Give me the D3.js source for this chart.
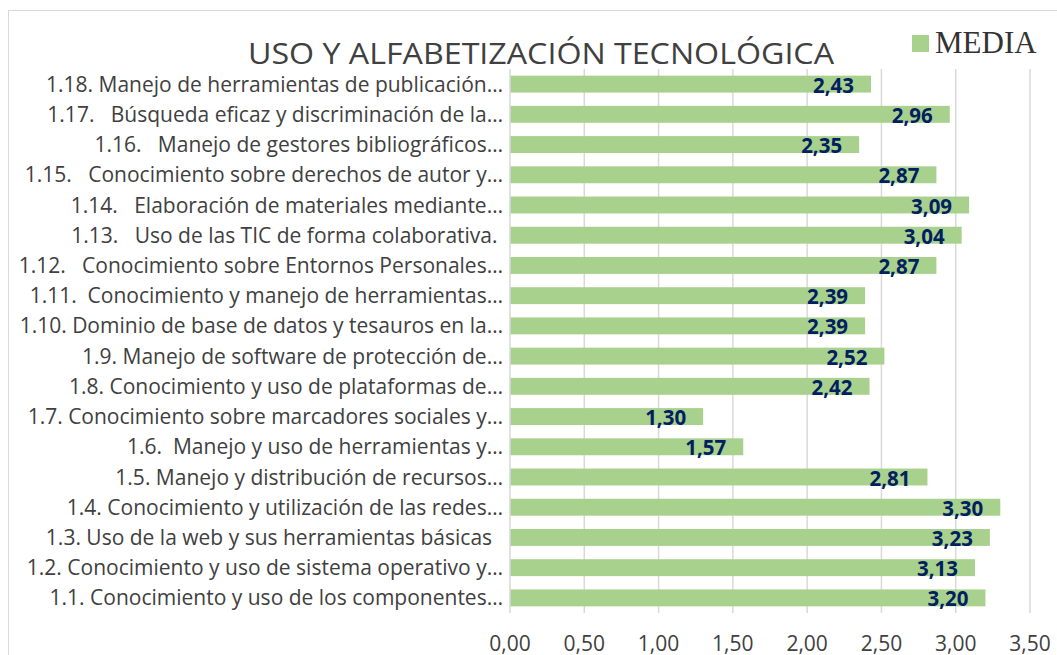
<!DOCTYPE html>
<html>
<head>
<meta charset="utf-8">
<script src="https://cdn.jsdelivr.net/npm/d3@7"></script>
<style>
  body { margin: 0; background: #fff; }
</style>
</head>
<body>
<div id="wrapper"></div>
<script>
// data, top bar first
const categories = [
  "1.18. Manejo de herramientas de publicación…",
  "1.17.   Búsqueda eficaz y discriminación de la…",
  "1.16.   Manejo de gestores bibliográficos…",
  "1.15.   Conocimiento sobre derechos de autor y…",
  "1.14.   Elaboración de materiales mediante…",
  "1.13.   Uso de las TIC de forma colaborativa. ",
  "1.12.   Conocimiento sobre Entornos Personales…",
  "1.11.  Conocimiento y manejo de herramientas…",
  "1.10. Dominio de base de datos y tesauros en la…",
  "1.9. Manejo de software de protección de…",
  "1.8. Conocimiento y uso de plataformas de…",
  "1.7. Conocimiento sobre marcadores sociales y…",
  "1.6.  Manejo y uso de herramientas y…",
  "1.5. Manejo y distribución de recursos…",
  "1.4. Conocimiento y utilización de las redes…",
  "1.3. Uso de la web y sus herramientas básicas  ",
  "1.2. Conocimiento y uso de sistema operativo y…",
  "1.1. Conocimiento y uso de los componentes…"
]
const media = [2.43, 2.96, 2.35, 2.87, 3.09, 3.04, 2.87, 2.39, 2.39, 2.52, 2.42, 1.30, 1.57, 2.81, 3.30, 3.23, 3.13, 3.20]
const xTicks = [0, 0.5, 1, 1.5, 2, 2.5, 3, 3.5]
const title = "USO Y ALFABETIZACIÓN TECNOLÓGICA"
const seriesName = "MEDIA"

const width = 1057
const height = 655
const margin = {top: 69, right: 27, bottom: 42, left: 510}

const esLocale = d3.formatLocale({decimal: ",", thousands: ".", grouping: [3], currency: ["", "€"]})
const fmt = esLocale.format(".2f")

const svg = d3.select("#wrapper")
  .append("svg")
  .attr("width", width)
  .attr("height", height)
  .style("font-family", "'Open Sans', sans-serif")

// chart frame
svg.append("rect")
  .attr("x", 8.5).attr("y", 10.5)
  .attr("width", 1100).attr("height", 700)
  .attr("fill", "none")
  .attr("stroke", "#d9d9d9")
  .attr("stroke-width", 1)

const x = d3.scaleLinear()
  .domain([0, 3.5])
  .range([margin.left, width - margin.right])

const y = d3.scaleBand()
  .domain(categories)
  .range([margin.top, height - margin.bottom])
  .paddingInner(0.44)
  .paddingOuter(0.22)

// gridlines
svg.append("g")
  .selectAll("line")
  .data(xTicks.slice(1))
  .join("line")
  .attr("x1", d => x(d)).attr("x2", d => x(d))
  .attr("y1", margin.top).attr("y2", height - margin.bottom)
  .attr("stroke", "#d9d9d9")
  .attr("stroke-width", 1.5)

// bars
svg.append("g")
  .selectAll("rect")
  .data(media)
  .join("rect")
  .attr("x", x(0))
  .attr("y", (d, i) => y(categories[i]))
  .attr("width", d => x(d) - x(0))
  .attr("height", y.bandwidth())
  .attr("fill", "#a9d18e")

// category axis line
svg.append("line")
  .attr("x1", x(0)).attr("x2", x(0))
  .attr("y1", margin.top).attr("y2", height - margin.bottom)
  .attr("stroke", "#d9d9d9")
  .attr("stroke-width", 1.5)

// category labels
svg.append("g")
  .selectAll("text")
  .data(categories)
  .join("text")
  .attr("x", x(0) - 7)
  .attr("y", d => y(d) + y.bandwidth() / 2 + 7.5)
  .attr("text-anchor", "end")
  .style("white-space", "pre")
  .attr("font-size", 21)
  .attr("fill", "#404040")
  .text(d => d)

// value labels
svg.append("g")
  .selectAll("text")
  .data(media)
  .join("text")
  .attr("x", d => x(d) - 17)
  .attr("y", (d, i) => y(categories[i]) + y.bandwidth() / 2 + 8.5)
  .attr("text-anchor", "end")
  .attr("font-size", 20.5)
  .attr("font-weight", "bold")
  .attr("fill", "#002060")
  .text(d => fmt(d))

// x tick labels
svg.append("g")
  .selectAll("text")
  .data(xTicks)
  .join("text")
  .attr("x", d => x(d))
  .attr("y", 650.5)
  .attr("text-anchor", "middle")
  .attr("font-size", 21)
  .attr("fill", "#404040")
  .text(d => fmt(d))

// title
svg.append("text")
  .attr("x", 541)
  .attr("y", 64)
  .attr("text-anchor", "middle")
  .attr("font-size", 30)
  .attr("fill", "#404040")
  .attr("textLength", 586)
  .attr("lengthAdjust", "spacingAndGlyphs")
  .text(title)

// legend
svg.append("rect")
  .attr("x", 912).attr("y", 35)
  .attr("width", 17).attr("height", 17)
  .attr("fill", "#a9d18e")
svg.append("text")
  .attr("x", 935)
  .attr("y", 52.5)
  .attr("font-family", "'Liberation Serif', serif")
  .attr("font-size", 31)
  .attr("fill", "#333")
  .text(seriesName)
</script>
</body>
</html>
